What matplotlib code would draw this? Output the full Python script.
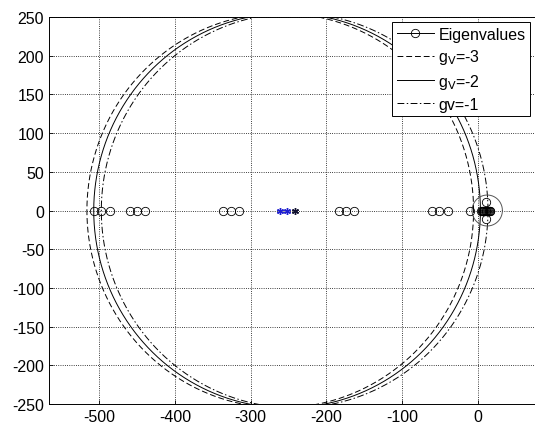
import numpy as np
import matplotlib
matplotlib.use('Agg')
from matplotlib import pyplot as plt
from matplotlib.lines import Line2D

plt.rcParams['font.family'] = ['Liberation Sans', 'DejaVu Sans']
plt.rcParams['axes.unicode_minus'] = False

# eigenvalues (real, imag)
eig_re = [-507, -497, -486, -459, -450, -439, -337, -326, -316,
          -184, -174, -164, -61, -51, -40, -11,
          4, 5, 6, 7, 8, 9, 10, 11, 12, 13, 14, 15, 16, 11, 11]
eig_im = [0, 0, 0, 0, 0, 0, 0, 0, 0,
          0, 0, 0, 0, 0, 0, 0,
          0, 0, 0, 0, 0, 0, 0, 0, 0, 0, 0, 0, 0, 11, -11]

# circles for each gv
gv_labels = ['g$_\\mathrm{V}$=-3', 'g$_\\mathrm{V}$=-2', 'gv=-1']
gv_center = [-261, -252, -242]
gv_radius = [255, 255, 255]
gv_dash = [(6, 3), None, (7, 2.5, 1.5, 2.5)]
star_color = ['#1f1fd0', '#1f1fd0', '#101030']

# small circle near origin
small_center = 12
small_radius = 20

fig = plt.figure(figsize=(5.35, 4.27), dpi=100)
ax = fig.add_axes([49/535, 1-405/427, 486/535, 387/427])

th = np.linspace(0, 2*np.pi, 721)
for c, r, d in zip(gv_center, gv_radius, gv_dash):
    ln, = ax.plot(c + r*np.cos(th), r*np.sin(th), '-', color='k', lw=0.7)
    if d is not None:
        ln.set_dashes(d)
for c, col in zip(gv_center, star_color):
    ax.plot(c, 0, marker=(6, 2, 0), ms=5, color=col, mew=1.0, ls='none')
ax.plot(small_center + small_radius*np.cos(th), small_radius*np.sin(th),
        '-', color='#555555', lw=0.7)
ax.plot(eig_re, eig_im, 'o', ms=6, mfc='none', mec='k', mew=0.6)

ax.set_xlim(-566, 75)
ax.set_ylim(-250, 250)
ax.set_xticks(np.arange(-500, 1, 100))
ax.set_yticks(np.arange(-250, 251, 50))
ax.grid(True, ls=':', color='k', lw=0.6)
ax.tick_params(labelsize=11.5, direction='in', length=3, width=0.6)
for s in ax.spines.values():
    s.set_linewidth(0.7)

handles = [Line2D([], [], color='k', lw=0.7, marker='o', ms=6, mfc='none', mew=0.6)]
for d in gv_dash:
    h = Line2D([], [], color='k', lw=0.7)
    if d is not None:
        h.set_dashes(d)
    handles.append(h)
leg = ax.legend(handles, ['Eigenvalues'] + gv_labels, loc='upper left',
                bbox_to_anchor=(0.706, 0.987), borderaxespad=0, fontsize=11.5,
                fancybox=False, edgecolor='k', framealpha=1,
                handlelength=2.3, handletextpad=0.3, labelspacing=0.35,
                borderpad=0.3)
leg.get_frame().set_linewidth(0.7)

plt.savefig('out.png', dpi=100)
